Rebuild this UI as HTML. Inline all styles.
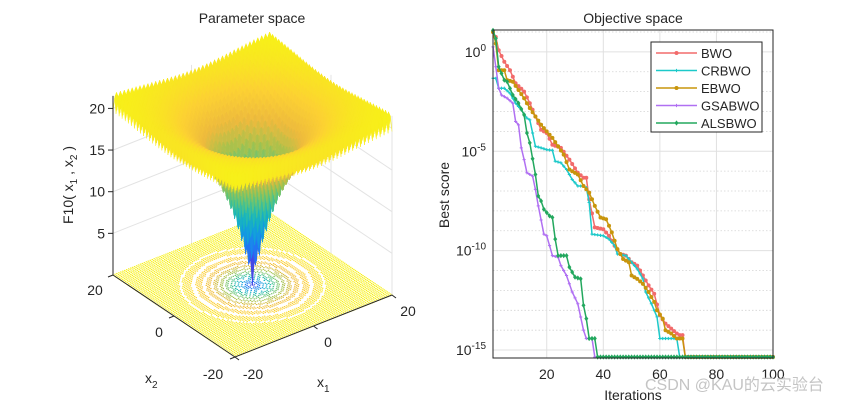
<!DOCTYPE html>
<html><head><meta charset="utf-8">
<style>
html,body{margin:0;padding:0;background:#fff;}
svg{display:block;font-family:"Liberation Sans","Noto Sans CJK SC",sans-serif;}
</style></head>
<body>
<svg id="root" width="865" height="404" viewBox="0 0 865 404">
  <rect width="865" height="404" fill="#fff"/>
  <g id="left"></g>
  <g id="right"></g>
</svg>
<script>
// ===== Objective space data (log10 of best score) =====
const iterations = [1, 20, 40, 60, 80, 100];
const xTickLabels = ["20", "40", "60", "80", "100"];
const xTickValues = [20, 40, 60, 80, 100];
const yTickExps = [0, -5, -10, -15];
const seriesNames = ["BWO", "CRBWO", "EBWO", "GSABWO", "ALSBWO"];
const floorLog = -15.35;

const bwoIter = [1,2,3,5,7,9,12,14,16,18,20,22,25,28,31,33,34,35,37,40,42,44,46,48,50,52,54,56,58,60,62,64,66,67,68,69,100];
const bwoLog  = [1.0,0.75,0.08,-0.5,-0.92,-1.58,-2,-2.58,-3.25,-3.92,-4.08,-4.67,-4.83,-5.42,-6.08,-6.33,-6.33,-7.42,-8.83,-8.92,-9.25,-9.75,-10.17,-10.25,-10.58,-10.75,-11.25,-11.75,-12.17,-13.25,-13.67,-13.92,-14.17,-14.25,-14.25,-15.35,-15.35];

const crIter = [1,2,3,5,7,9,11,13,14,15,16,18,20,22,23,25,27,29,31,33,34,35,36,40,42,44,45,48,50,52,54,55,57,59,60,66,67,100];
const crLog  = [-1.33,-1.33,-1.83,-1.83,-2.08,-2.58,-2.92,-3.33,-3.42,-4.08,-4.75,-4.83,-4.92,-4.95,-5.5,-5.58,-5.92,-6.42,-6.75,-6.75,-6.83,-7.58,-9.17,-9.25,-9.42,-9.75,-10.17,-10.25,-10.58,-10.92,-11.42,-12.08,-12.67,-13.33,-14.42,-14.42,-15.35,-15.35];

const ebIter = [1,2,3,5,6,8,10,12,14,16,18,20,22,24,26,28,31,33,35,37,39,41,43,45,47,49,50,52,54,56,58,59,61,62,64,66,68,69,100];
const ebLog  = [1.0,0.42,-0.92,-0.92,-1.42,-1.5,-1.92,-2.33,-2.83,-3.25,-3.67,-4,-4.33,-4.75,-5.17,-5.92,-6.17,-6.75,-7.08,-7.75,-8.33,-8.42,-9.08,-9.92,-10.42,-10.58,-11.25,-11.42,-11.67,-12.08,-12.58,-13,-13.42,-14,-14.17,-14.42,-14.42,-15.35,-15.35];

const gsIter = [1,2,3,4,6,8,9,10,11,12,13,15,16,17,19,20,21,22,24,25,27,29,31,33,34,36,37,100];
const gsLog  = [0.25,-0.75,-1.83,-2.17,-2.33,-2.58,-3.5,-3.67,-4.83,-5.42,-6.08,-6.25,-6.92,-7.75,-9.17,-9.25,-9.75,-10.25,-10.33,-10.75,-11.25,-12.08,-12.67,-14,-14.42,-14.42,-15.35,-15.35];

const alIter = [1,2,3,5,6,8,10,12,13,14,16,17,18,19,21,22,23,24,27,28,29,30,32,33,34,35,37,38,100];
const alLog  = [1.08,0.67,-0.75,-1.42,-1.5,-2.17,-2.58,-3.17,-4.08,-4.58,-6.17,-7.25,-7.5,-7.92,-8.25,-8.33,-9.42,-10.25,-10.25,-10.83,-11.08,-11.33,-11.42,-12.75,-13.42,-14.42,-14.42,-15.35,-15.35];

const seriesIters = [bwoIter, crIter, ebIter, gsIter, alIter];
const seriesLogs = [bwoLog, crLog, ebLog, gsLog, alLog];
const seriesColors = ["#f26b6b", "#1cc9c9", "#c8950c", "#b070f2", "#23a85e"];
const seriesMarkers = ["circle", "plus", "circle", "plus", "diamond"];

// ===== Surface parameters =====
const zTickValues = [5, 10, 15, 20];
const x1TickValues = [-20, 0, 20];
const x2TickValues = [20, 0, -20];

const NS = "http://www.w3.org/2000/svg";
function mk(tag, attrs, parent) {
  const e = document.createElementNS(NS, tag);
  for (const k in attrs) e.setAttribute(k, attrs[k]);
  if (parent) parent.appendChild(e);
  return e;
}
function txt(parent, x, y, s, size, anchor, extra) {
  const t = mk("text", Object.assign({x: x, y: y, "font-size": size, "text-anchor": anchor || "middle", fill: "#262626"}, extra || {}), parent);
  t.textContent = s;
  return t;
}

// ===== Right: Objective space =====
(function () {
  const g = document.getElementById("right");
  const L = 493, R = 773, T = 30, B = 358;
  const xMin = 1, xMax = 100, yTop = 1.1, yBot = -15.4;
  const sx = v => L + (v - xMin) / (xMax - xMin) * (R - L);
  const sy = v => T + (yTop - v) / (yTop - yBot) * (B - T);

  for (let d = 1; d >= -15; d--) {
    if (d % 5 === 0) continue;
    const l = mk("line", {x1: L, x2: R, y1: sy(d), y2: sy(d), stroke: "#d4d4d4", "stroke-width": 0.8, "stroke-dasharray": "1.5,2"}, g);
    
    
  }
  yTickExps.forEach(d => {
    const l = mk("line", {x1: L, x2: R, y1: sy(d), y2: sy(d), stroke: "#e0e0e0", "stroke-width": 1}, g);
    
    
  });
  xTickValues.forEach(v => {
    const l = mk("line", {x1: sx(v), x2: sx(v), y1: T, y2: B, stroke: "#e0e0e0", "stroke-width": 1}, g);
    
    
  });

  const clip = mk("clipPath", {id: "clipR"}, g);
  mk("rect", {x: L - 4, y: T - 6, width: R - L + 8, height: B - T + 10}, clip);
  const sg = mk("g", {"clip-path": "url(#clipR)"}, g);
  seriesIters.forEach((its, si) => {
    const logs = seriesLogs[si];
    const col = seriesColors[si];
    const pts = its.map((it, i) => sx(it).toFixed(1) + "," + sy(logs[i]).toFixed(1)).join(" ");
    const pl = mk("polyline", {points: pts, fill: "none", stroke: col, "stroke-width": 1.5}, sg);
    
    
    for (let k = 0; k < its.length; k++) {
      const x = sx(its[k]), y = sy(logs[k]);
      drawMarker(sg, seriesMarkers[si], x, y, col, 'marker-' + seriesNames[si].toLowerCase());
      if (k + 1 < its.length) {
        for (let it = its[k] + 1; it < its[k + 1]; it++) {
          const f = (it - its[k]) / (its[k + 1] - its[k]);
          drawMarker(sg, seriesMarkers[si], sx(it), y + f * (sy(logs[k + 1]) - y), col, 'marker-' + seriesNames[si].toLowerCase());
        }
      }
    }
  });

  function drawMarker(p, type, x, y, col, name) {
    let m;
    if (type === "circle") m = mk("circle", {cx: x.toFixed(1), cy: y.toFixed(1), r: 2, fill: col}, p);
    else if (type === "diamond") m = mk("polygon", {points: `${x},${y - 2.6} ${x + 2},${y} ${x},${y + 2.6} ${x - 2},${y}`, fill: col}, p);
    else m = mk("path", {d: `M${x - 1.6},${y}H${x + 1.6}M${x},${y - 1.6}V${y + 1.6}`, stroke: col, "stroke-width": 1}, p);
    
    
  }

  const box = mk("rect", {x: L, y: T, width: R - L, height: B - T, fill: "none", stroke: "#262626", "stroke-width": 1}, g);
  
  

  xTickValues.forEach((v, i) => {
    const t = txt(g, sx(v), 379, xTickLabels[i], 14);
    
    
  });
  yTickExps.forEach(d => {
    const t = mk("text", {x: 486, y: sy(d) + 5, "font-size": 14, "text-anchor": "end", fill: "#262626"}, g);
    t.textContent = "10";
    const ts = mk("tspan", {dy: -6, "font-size": 10}, t);
    ts.textContent = String(d);
    
    
  });

  const title = txt(g, 633, 23, "Objective space", 14);
  
  
  const xl = txt(g, 633, 400, "Iterations", 14);
  
  
  const yl = txt(g, 0, 0, "Best score", 14, "middle", {transform: "translate(449,195) rotate(-90)"});
  
  

  const lg = mk("g", {}, g);
  
  
  mk("rect", {x: 651, y: 42, width: 111, height: 90, fill: "#fff", stroke: "#262626", "stroke-width": 1}, lg);
  seriesNames.forEach((n, i) => {
    const y = 53 + i * 17.5;
    const e = mk("g", {}, lg);
    
    
    mk("line", {x1: 656, x2: 697, y1: y, y2: y, stroke: seriesColors[i], "stroke-width": 1.5}, e);
    drawMarker(e, seriesMarkers[i], 676.5, y, seriesColors[i], 'legend-marker');
    txt(e, 701, y + 5, n, 13, "start");
  });

  const wm = txt(g, 645, 390, "CSDN @KAU的云实验台", 16, "start", {fill: "#c4c4c4"});
  
  
})();

// ===== Left: Parameter space (Ackley F10) =====
(function () {
  const g = document.getElementById("left");
  const O = [235, 357], U = [157, -62], V = [-122, -82], ZS = 8.33;
  function P(x1, x2, z) {
    const u = (x1 + 20) / 40, v = (x2 + 20) / 40;
    return [O[0] + u * U[0] + v * V[0], O[1] + u * U[1] + v * V[1] - ZS * z];
  }
  function F(x, y) {
    return -20 * Math.exp(-0.2 * Math.sqrt(0.5 * (x * x + y * y))) - Math.exp(0.5 * (Math.cos(2 * Math.PI * x) + Math.cos(2 * Math.PI * y))) + 20 + Math.E;
  }
  const parula = [[0.24,0.15,0.66],[0.27,0.29,0.92],[0.12,0.48,0.95],[0.07,0.62,0.87],[0.1,0.72,0.73],[0.35,0.77,0.5],[0.65,0.76,0.3],[0.93,0.73,0.24],[0.99,0.82,0.2],[0.97,0.94,0.1]];
  function col(z, lo, hi) {
    let t = Math.max(0, Math.min(1, (z - lo) / (hi - lo))) * (parula.length - 1);
    const i = Math.min(parula.length - 2, Math.floor(t)), f = t - i;
    const c = parula[i].map((a, k) => Math.round(255 * (a + f * (parula[i + 1][k] - a))));
    return `rgb(${c[0]},${c[1]},${c[2]})`;
  }
  const pt = p => p[0].toFixed(1) + "," + p[1].toFixed(1);

  const wall = mk("g", {stroke: "#e3e3e3", "stroke-width": 1, fill: "none"}, g);
  
  
  zTickValues.forEach(z => {
    mk("polyline", {points: [P(-20, 20, z), P(20, 20, z), P(20, -20, z)].map(pt).join(" ")}, wall);
  });
  [[-20, 20], [20, 20], [20, -20], [0, 20], [20, 0]].forEach(c => {
    mk("line", {x1: P(c[0], c[1], 0)[0], y1: P(c[0], c[1], 0)[1], x2: P(c[0], c[1], 21.5)[0], y2: P(c[0], c[1], 21.5)[1]}, wall);
  });

  // floor contour dots
  const fl = mk("g", {}, g);
  
  
  const st = 0.5;
  for (let a = -20; a <= 20.001; a += st) {
    for (let b = -20; b <= 20.001; b += st) {
      const r = Math.sqrt(a * a + b * b);
      const z = -20 * Math.exp(-0.2 * Math.sqrt(0.5) * r) + 20;
      const lv = z / 1.3;
      if (Math.abs(lv - Math.round(lv)) < 0.32 || z > 17.5) {
        const p = P(a, b, 0);
        mk("rect", {x: (p[0] - 0.7).toFixed(1), y: (p[1] - 0.5).toFixed(1), width: 1.4, height: 1.1, fill: col(z + 1, 0, 19)}, fl);
      }
    }
  }

  // surface
  const sf = mk("g", {}, g);
  
  
  const N = 80, h = 40 / N;
  const quads = [];
  for (let i = 0; i < N; i++) for (let j = 0; j < N; j++) {
    quads.push([-20 + i * h, -20 + j * h]);
  }
  quads.sort((p, q) => (q[0] + q[1]) - (p[0] + p[1]));
  quads.forEach(q => {
    const [x0, y0] = q, x1 = x0 + h, y1 = y0 + h;
    const zs = [F(x0, y0), F(x1, y0), F(x1, y1), F(x0, y1)];
    const zm = (zs[0] + zs[1] + zs[2] + zs[3]) / 4;
    const c = col(zm, 0.5, 21);
    mk("polygon", {points: [P(x0, y0, zs[0]), P(x1, y0, zs[1]), P(x1, y1, zs[2]), P(x0, y1, zs[3])].map(pt).join(" "), fill: c, stroke: c, "stroke-width": 0.3}, sf);
  });

  const ax = mk("g", {stroke: "#262626", "stroke-width": 1, fill: "none"}, g);
  
  
  mk("polyline", {points: [P(-20, 20, 0), P(-20, -20, 0), P(20, -20, 0)].map(pt).join(" ")}, ax);
  mk("line", {x1: P(-20, 20, 0)[0], y1: P(-20, 20, 0)[1], x2: P(-20, 20, 21.5)[0], y2: P(-20, 20, 21.5)[1]}, ax);
  zTickValues.forEach(z => {
    const p = P(-20, 20, z);
    mk("line", {x1: p[0], y1: p[1], x2: p[0] - 5, y2: p[1]}, ax);
    const t = txt(g, p[0] - 8, p[1] + 5, String(z), 14, "end");
    
    
  });
  x2TickValues.forEach(v => {
    const p = P(-20, v, 0);
    mk("line", {x1: p[0], y1: p[1], x2: p[0] - 5, y2: p[1] + 2}, ax);
  });
  x1TickValues.forEach(v => {
    const p = P(v, -20, 0);
    mk("line", {x1: p[0], y1: p[1], x2: p[0] + 4, y2: p[1] + 3}, ax);
  });
  [["20", 95, 295], ["0", 159, 337], ["-20", 213, 379]].forEach(a => {
    const t = txt(g, a[1], a[2], a[0], 14);
    
    
  });
  [["-20", 253, 379], ["0", 328, 347], ["20", 408, 316]].forEach(a => {
    const t = txt(g, a[1], a[2], a[0], 14);
    
    
  });

  const x2l = mk("text", {x: 145, y: 383, "font-size": 14, fill: "#262626"}, g);
  x2l.innerHTML = 'x<tspan dy="5" font-size="10">2</tspan>';
  
  
  const x1l = mk("text", {x: 317, y: 387, "font-size": 14, fill: "#262626"}, g);
  x1l.innerHTML = 'x<tspan dy="5" font-size="10">1</tspan>';
  
  
  const zl = mk("text", {"font-size": 14, fill: "#262626", "text-anchor": "middle", transform: "translate(73,185) rotate(-90)"}, g);
  zl.innerHTML = 'F10( x<tspan dy="4" font-size="10">1</tspan><tspan dy="-4"> , x</tspan><tspan dy="4" font-size="10">2</tspan><tspan dy="-4"> )</tspan>';
  
  

  const title = txt(g, 252, 23, "Parameter space", 14);
  
  
})();
</script>
</body></html>
